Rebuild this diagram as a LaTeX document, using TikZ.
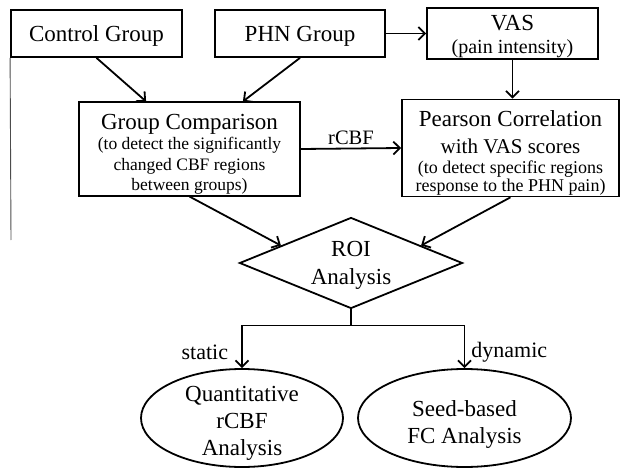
\documentclass[tikz,border=0pt]{standalone}
\usepackage{fontspec}
\setmainfont{Liberation Serif}
\usetikzlibrary{arrows.meta,shapes.geometric}
\tikzset{
  ln/.style={line width=1.8pt},
  box/.style={draw, ln, inner sep=1pt, align=center},
  arr/.style={ln, -{Straight Barb[length=6.5pt,width=13pt,line width=1.8pt]}},
  lbl/.style={font=\fontsize{22}{24}\selectfont, inner sep=1pt},
}
\newcommand{\tfont}{\fontsize{23}{20.5}\selectfont}
\newcommand{\sfont}{\fontsize{17.5}{20.5}\selectfont}
\newcommand{\pushdown}[1]{\rule{0pt}{#1}}
\begin{document}
\begin{tikzpicture}[x=1pt,y=-1pt]
\useasboundingbox (0,0) rectangle (621,468);
% top row
\node[box, minimum width=171pt, minimum height=47pt, font=\fontsize{23}{26}\selectfont] (ctrl) at (96.5,33.5) {\pushdown{20pt}Control Group};
\node[box, minimum width=170pt, minimum height=47pt, font=\fontsize{23}{26}\selectfont] (phn) at (300,33.5) {\pushdown{20pt}PHN Group};
\node[box, minimum width=171pt, minimum height=47pt, font=\fontsize{23}{23}\selectfont] (vas) at (512.5,33.5) {\pushdown{22pt}VAS\\{\fontsize{20}{23}\selectfont(pain intensity)}};
% second row
\node[box, minimum width=221pt, minimum height=86pt, font=\tfont] (gc) at (189.5,149) {\pushdown{26pt}Group Comparison\\{\sfont(to detect the significantly}\\{\sfont changed CBF regions}\\{\sfont between groups)}};
\node[box, minimum width=217pt, minimum height=86pt, font=\fontsize{23}{20}\selectfont] (pc) at (510.5,148) {\pushdown{26pt}Pearson Correlation\\[7pt]{\fontsize{21}{20}\selectfont with VAS scores}\\{\fontsize{18}{20}\selectfont(to detect specific regions}\\[-2pt]{\fontsize{18}{20}\selectfont response to the PHN pain)}};
% diamond
\node[draw, ln, diamond, aspect=2.45, inner sep=0pt, minimum width=223pt, minimum height=91pt, align=center, font=\fontsize{23}{28}\selectfont] (roi) at (351,263) {\pushdown{20pt}ROI\\Analysis};
% ellipses
\node[draw, ln, ellipse, minimum width=202pt, minimum height=98pt, inner sep=0pt] (e1) at (242,418) {};
\node[align=center, font=\fontsize{23}{27}\selectfont, inner sep=0pt] (e1t) at (242,423.5) {Quantitative\\rCBF\\Analysis};
\node[draw, ln, ellipse, minimum width=213pt, minimum height=98pt, inner sep=0pt] (e2) at (464.5,418) {};
\node[align=center, font=\fontsize{23}{27}\selectfont, inner sep=0pt] (e2t) at (464.5,424) {Seed-based\\FC Analysis};
% left edge line
\coordinate (lt) at (ctrl.south west);
\coordinate (lb) at (11,240);
\draw[line width=0.9pt, black!70] (lt) -- (lb);
% connectors
\draw[arr] (ctrl.south) -- ([xshift=68pt]gc.north west);
\draw[arr] (phn.south) -- ([xshift=-58pt]gc.north east);
\draw[arr] (phn.east) -- (vas.west);
\draw[arr] (vas.south) -- (vas.south |- pc.north);
\draw[arr] (gc.east) -- node[lbl, above=2pt, font=\fontsize{20.5}{22}\selectfont] (rl) {rCBF} (pc.west);
\draw[arr] (gc.south) -- (roi.166);
\draw[arr] (pc.south) -- (roi.14);
\coordinate (j) at ([yshift=-16pt]roi.south);
\draw[ln] (roi.south) -- (j);
\draw[arr] (j) -| node[lbl, pos=0.82, left=12pt] (sl) {static} (e1.north);
\draw[arr] (j) -| node[lbl, pos=0.82, right=5pt] (dl) {dynamic} (e2.north);
\end{tikzpicture}
\end{document}
